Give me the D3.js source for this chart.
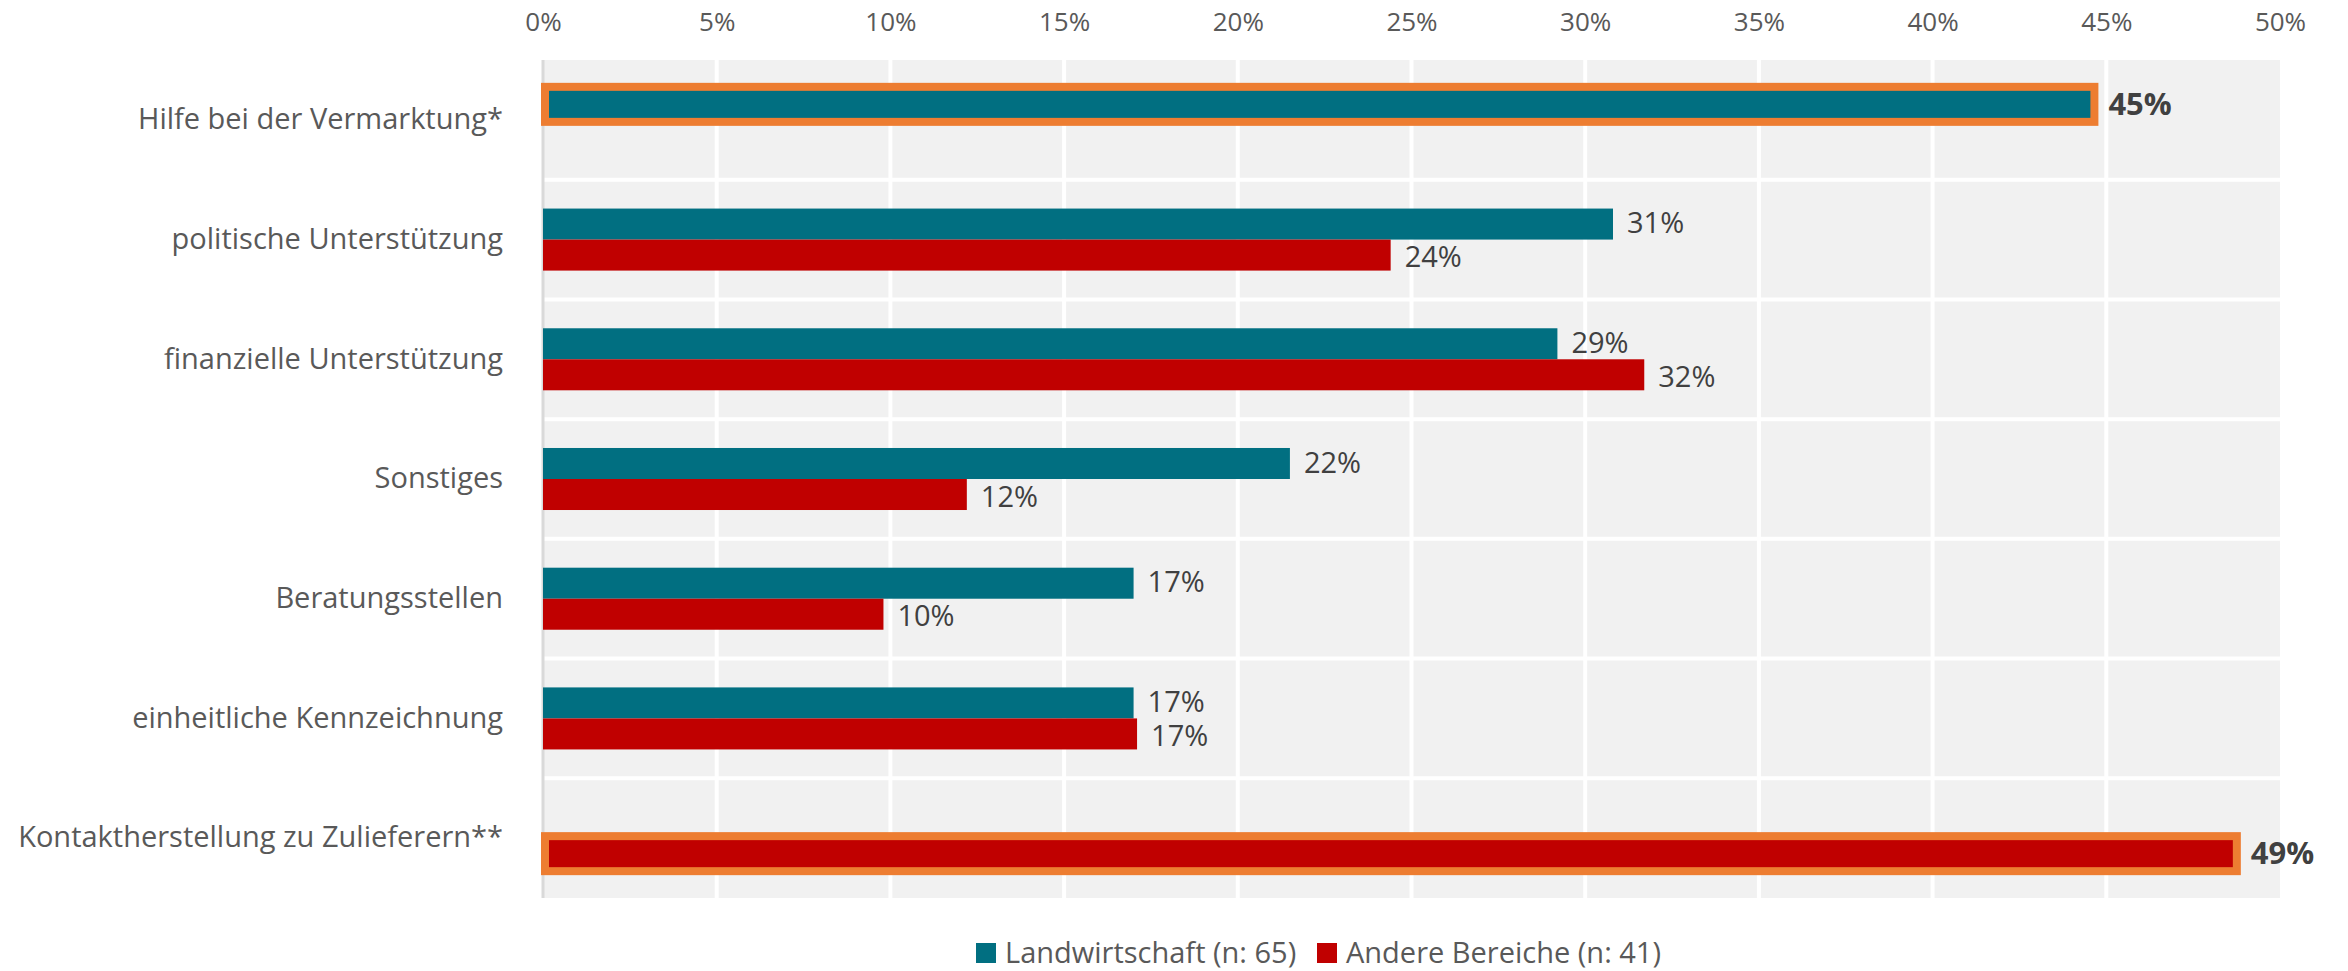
<!DOCTYPE html>
<html>
<head>
<meta charset="utf-8">
<script src="https://cdn.jsdelivr.net/npm/d3@7"></script>
<style>
  body { margin: 0; background: #fff; }
  svg { display: block; font-family: "Segoe UI", "Open Sans", sans-serif; }
</style>
</head>
<body>
<svg id="chart" width="2348" height="971"></svg>
<script>
// data
var categories = [
    "Hilfe bei der Vermarktung*",
    "politische Unterstützung",
    "finanzielle Unterstützung",
    "Sonstiges",
    "Beratungsstellen",
    "einheitliche Kennzeichnung",
    "Kontaktherstellung zu Zulieferern**"
];
var seriesNames = ["Landwirtschaft (n: 65)", "Andere Bereiche (n: 41)"];
var landwirtschaft = [44.6, 30.8, 29.2, 21.5, 17.0, 17.0, null];
var andereBereiche = [null, 24.4, 31.7, 12.2, 9.8, 17.1, 48.7];
var highlighted = ["Hilfe bei der Vermarktung*", "Kontaktherstellung zu Zulieferern**"];
var xTicks = [0, 5, 10, 15, 20, 25, 30, 35, 40, 45, 50];

var colors = ["#016f81", "#c00000"];

var margin = {top: 60, right: 68, bottom: 73, left: 543},
    width = 2348 - margin.left - margin.right,
    height = 971 - margin.top - margin.bottom;

var svg = d3.select("#chart");
var g = svg.append("g")
    .attr("transform", "translate(" + margin.left + "," + margin.top + ")");

var x = d3.scaleLinear().domain([0, 50]).range([0, width]);
var y = d3.scaleBand().domain(categories).range([0, height]).padding(0);
var ySub = d3.scaleBand().domain([0, 1]).range([0, y.bandwidth()])
    .paddingInner(0).paddingOuter(0.93);

// background
g.append("rect")
    .attr("x", 0).attr("y", 0)
    .attr("width", x(50)).attr("height", height)
    .attr("fill", "#f1f1f1");

// vertical grid
g.selectAll("line.vgrid")
    .data(xTicks.slice(1, -1))
    .enter().append("line")
    .attr("class", "vgrid")
    .attr("x1", d => x(d)).attr("x2", d => x(d))
    .attr("y1", 0).attr("y2", height)
    .attr("stroke", "#fff").attr("stroke-width", 4);

// horizontal separators
g.selectAll("line.hgrid")
    .data(categories.slice(1))
    .enter().append("line")
    .attr("class", "hgrid")
    .attr("x1", 0).attr("x2", x(50))
    .attr("y1", d => y(d)).attr("y2", d => y(d))
    .attr("stroke", "#fff").attr("stroke-width", 4);

// left axis line
g.append("line")
    .attr("x1", 0).attr("x2", 0)
    .attr("y1", 0).attr("y2", height)
    .attr("stroke", "#d9d9d9").attr("stroke-width", 3);

// top axis labels
var xAxis = g.append("g")
    .call(d3.axisTop(x).tickValues(xTicks).tickFormat(d => d + "%").tickSize(0).tickPadding(0));
xAxis.select(".domain").remove();
xAxis.selectAll("text")
    .attr("y", -38)
    .attr("dy", "0.35em")
    .style("font-family", "'Segoe UI', 'Open Sans', sans-serif")
    .style("font-size", "26px")
    .attr("fill", "#595959");

// category labels
var yAxis = g.append("g")
    .call(d3.axisLeft(y).tickSize(0).tickPadding(40));
yAxis.select(".domain").remove();
yAxis.selectAll("text")
    .style("font-family", "'Segoe UI', 'Open Sans', sans-serif")
    .style("font-size", "29px")
    .attr("fill", "#595959");

// bars
var rows = [];
categories.forEach((c, i) => {
    [landwirtschaft[i], andereBereiche[i]].forEach((v, s) => {
        if (v !== null) rows.push({cat: c, s: s, v: v, hi: highlighted.indexOf(c) >= 0});
    });
});

var barH = ySub.bandwidth();

rows.forEach(d => {
    var by = y(d.cat) + ySub(d.s);
    if (d.hi) {
        g.append("rect")
            .attr("x", 2)
            .attr("y", by - 2)
            .attr("width", x(d.v))
            .attr("height", barH + 4)
            .attr("fill", colors[d.s])
            .attr("stroke", "#ed7d31")
            .attr("stroke-width", 8);
    } else {
        g.append("rect")
            .attr("x", 0)
            .attr("y", by)
            .attr("width", x(d.v))
            .attr("height", barH)
            .attr("fill", colors[d.s]);
    }
    g.append("text")
        .attr("x", x(d.v) + (d.hi ? 16 : 14))
        .attr("y", by + barH / 2 + (d.hi ? 0 : (d.s === 0 ? -1 : 2)))
        .attr("dy", "0.35em")
        .style("font-size", d.hi ? "31px" : "29px")
        .style("font-weight", d.hi ? "bold" : "normal")
        .attr("fill", "#404040")
        .text(Math.round(d.v) + "%");
});

// legend
var legend = svg.append("g").attr("transform", "translate(0,953)");
var lx = [976, 1317];
seriesNames.forEach((n, i) => {
    legend.append("rect")
        .attr("x", lx[i]).attr("y", -10)
        .attr("width", 20).attr("height", 20)
        .attr("fill", colors[i]);
    legend.append("text")
        .attr("x", lx[i] + 29).attr("y", 0)
        .attr("dy", "0.35em")
        .style("font-size", "29px")
        .attr("fill", "#595959")
        .text(n);
});
</script>
</body>
</html>
